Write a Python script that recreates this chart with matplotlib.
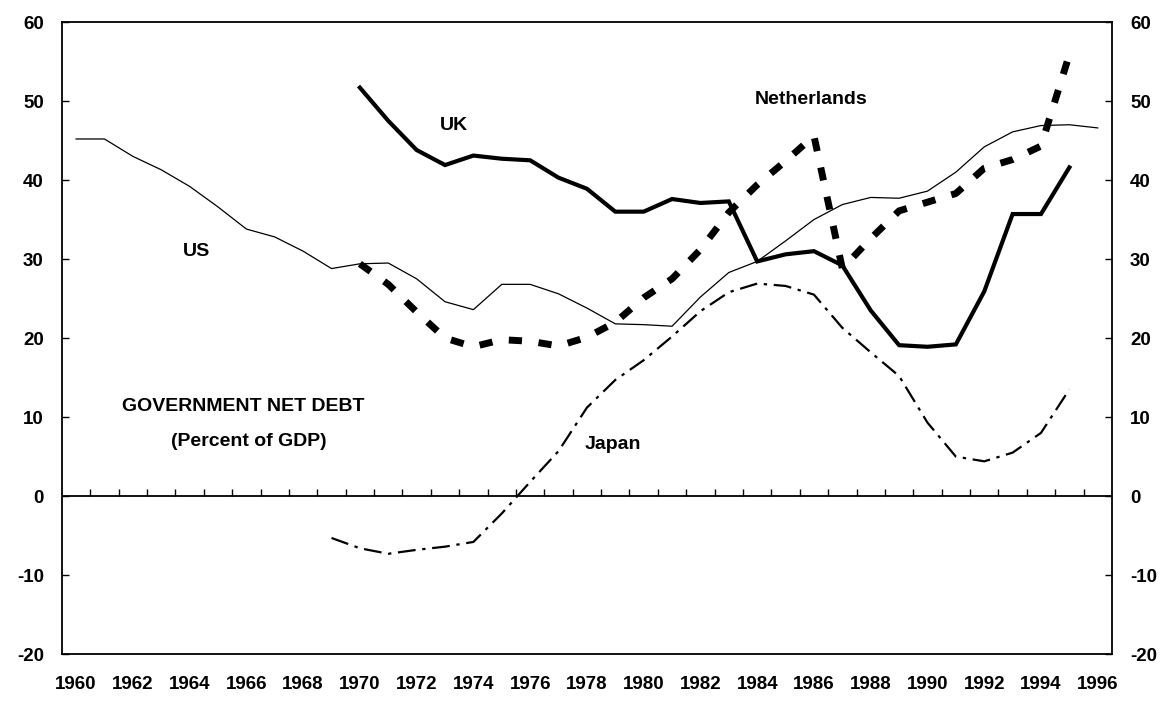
import numpy as np
import matplotlib
matplotlib.use("Agg")
import matplotlib.pyplot as plt

plt.rcParams['font.family'] = ['Liberation Sans', 'DejaVu Sans']
plt.rcParams['font.weight'] = 'bold'

years_us = np.arange(1960, 1997)
us = [45.2, 45.2, 43.0, 41.3, 39.2, 36.6, 33.8, 32.8, 31.0, 28.8,
      29.4, 29.5, 27.5, 24.6, 23.6, 26.8, 26.8, 25.6, 23.8, 21.8,
      21.7, 21.5, 25.2, 28.3, 29.7, 32.3, 35.0, 36.9, 37.8, 37.7,
      38.6, 41.0, 44.2, 46.1, 46.9, 47.0, 46.6]

years_uk = np.arange(1970, 1996)
uk = [51.7, 47.5, 43.8, 41.9, 43.1, 42.7, 42.5, 40.3, 38.9, 36.0,
      36.0, 37.6, 37.1, 37.3, 29.7, 30.6, 31.0, 29.2, 23.5, 19.1,
      18.9, 19.2, 25.9, 35.7, 35.7, 41.6]

years_nl = np.arange(1970, 1996)
nl = [29.4, 26.8, 23.3, 20.0, 18.9, 19.8, 19.6, 19.0, 20.1, 22.0,
      25.1, 27.5, 31.2, 35.9, 39.4, 42.4, 45.6, 28.8, 32.6, 36.1,
      37.2, 38.3, 41.5, 42.6, 44.3, 55.9]

years_jp = np.arange(1969, 1996)
jp = [-5.3, -6.6, -7.3, -6.8, -6.4, -5.8, -2.2, 1.8, 5.7, 11.2,
      14.7, 17.2, 20.2, 23.4, 25.8, 26.9, 26.6, 25.5, 21.3, 18.2,
      15.2, 9.3, 5.0, 4.4, 5.5, 8.0, 13.5]

label_years = np.arange(1960, 1997, 2)
yticks = np.arange(-20, 61, 10)

fig = plt.figure(figsize=(11.68, 7.11), dpi=100)
ax = fig.add_axes([0.053, 0.080, 0.899, 0.889])

ax.plot(years_us, us, color='black', lw=0.9)
ax.plot(years_uk, uk, color='black', lw=3.0, solid_joinstyle='miter')
ax.plot(years_nl, nl, color='black', lw=5.0, linestyle=(0, (1.9, 2.4)),
        dash_capstyle='butt')
ax.plot(years_jp, jp, color='black', lw=1.6, linestyle=(0, (8, 3, 1.5, 3)))

# zero line with year ticks between categories
ax.axhline(0, color='black', lw=1.3)
ax.vlines(np.arange(1960.5, 1996), 0, 0.85, color='black', lw=1.0)

ax.set_xlim(1959.5, 1996.5)
ax.set_ylim(-20, 60)
ax.set_xticks(label_years)
ax.set_xticklabels([str(y) for y in label_years], fontsize=13.5, fontweight='bold')
ax.tick_params(axis='x', length=0, pad=16)
ax.set_yticks(yticks)
ax.set_yticklabels([str(v) for v in yticks], fontsize=13.5, fontweight='bold')
ax.tick_params(axis='y', direction='in', length=5, width=1.0,
               left=True, right=True, labelleft=True, labelright=True, pad=13)
for s in ax.spines.values():
    s.set_linewidth(1.3)

tkw = dict(fontsize=14, fontweight='bold', ha='center', va='center')
ax.text(1973.3, 46.9, "UK", **tkw)
ax.text(1964.25, 31.0, "US", **tkw)
ax.text(1985.9, 50.2, "Netherlands", **tkw)
ax.text(1978.9, 6.5, "Japan", **tkw)
ax.text(1965.9, 11.3, "GOVERNMENT NET DEBT", **tkw)
ax.text(1966.1, 6.9, "(Percent of GDP)", **tkw)

fig.savefig("out.png", dpi=100)
